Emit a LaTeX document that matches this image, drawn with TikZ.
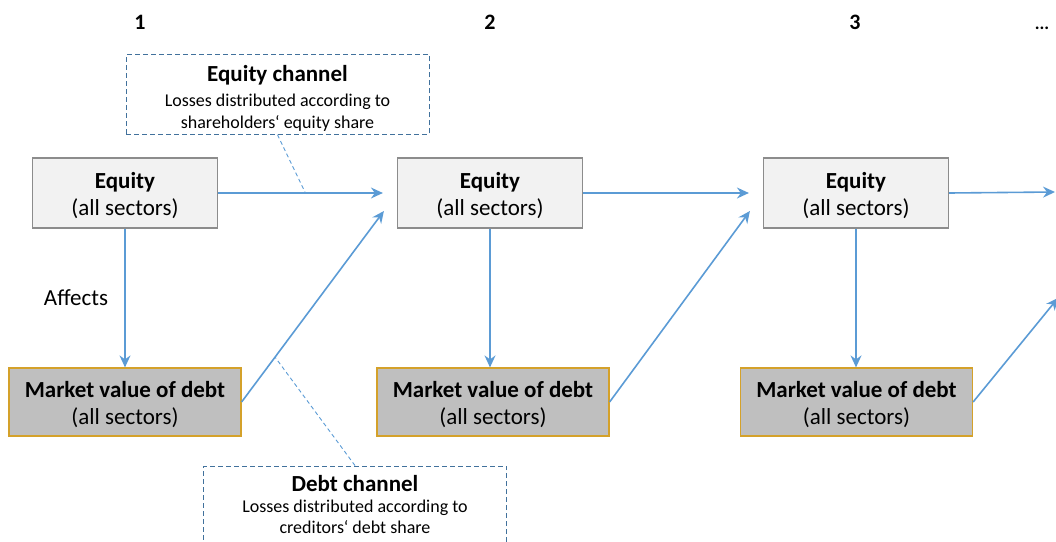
\documentclass[tikz,border=0pt]{standalone}
\usepackage{fontspec}
\setmainfont{Carlito}
\usetikzlibrary{arrows.meta, positioning}

\definecolor{flowblue}{HTML}{5B9BD5}
\definecolor{noteblue}{HTML}{41719C}
\definecolor{eqfill}{HTML}{F2F2F2}
\definecolor{eqline}{HTML}{8C8C8C}
\definecolor{debtfill}{HTML}{BFBFBF}
\definecolor{debtline}{HTML}{D4A12A}

\begin{document}
\begin{tikzpicture}[x=1pt, y=-1pt,
  equitybox/.style={draw=eqline, fill=eqfill, line width=1.2pt, minimum width=185pt, minimum height=70pt, align=center, font=\fontsize{23}{27}\selectfont},
  debtbox/.style={draw=debtline, fill=debtfill, line width=1.2pt, minimum width=232pt, minimum height=68pt, align=center, font=\fontsize{23}{27}\selectfont},
  channel/.style={draw=noteblue, dash pattern=on 5pt off 3pt, line width=0.9pt, minimum width=303pt, minimum height=77pt, align=center, font=\fontsize{18}{22}\selectfont},
  flow/.style={draw=flowblue, line width=1.6pt, -{Stealth[length=12pt, width=11pt, inset=4pt]}},
  pointer/.style={draw=flowblue, dash pattern=on 4pt off 3pt, line width=0.9pt},
  stepnum/.style={anchor=base, font=\fontsize{22}{26}\selectfont\bfseries}]

  \useasboundingbox (0,0) rectangle (1056,541);

  \node[stepnum] (n1) at (140,29) {1};
  \node[stepnum] (n2) at (490,29) {2};
  \node[stepnum] (n3) at (855,29) {3};
  \node[anchor=base, font=\fontsize{18}{22}\selectfont\bfseries] (more) at (1042,29) {...};

  \foreach \i/\x/\dx in {1/125/125, 2/490/493, 3/856/856.5}{
    \node[equitybox] (eq\i) at (\x,193) {\rule{0pt}{21pt}\textbf{Equity}\\(all sectors)};
    \node[debtbox] (debt\i) at (\dx,402) {\rule{0pt}{21pt}\textbf{Market value of debt}\\(all sectors)};
    \draw[flow] (eq\i.south) -- (eq\i.south |- debt\i.north);
  }

  \node[font=\fontsize{23}{27}\selectfont] (affects) at (76,298) {Affects};

  \draw[flow] (eq1.east) -- coordinate[pos=0.53] (eqhit) ([xshift=-14pt]eq2.west);
  \draw[flow] (debt1.east) -- coordinate[pos=0.235] (debthit) ([xshift=-13pt,yshift=-18pt]eq2.west);
  \draw[flow] (eq2.east) -- ([xshift=-14pt]eq3.west);
  \draw[flow] (debt2.east) -- ([xshift=-13pt,yshift=-18pt]eq3.west);

  \coordinate (nexteq) at (1055,192);
  \coordinate (nextdebt) at (1058,298);
  \draw[flow] (eq3.east) -- (nexteq);
  \draw[flow] (debt3.east) -- (nextdebt);

  \node[channel] (eqch) at (277.5,94.5) {\rule{0pt}{23pt}\textbf{\fontsize{23}{26}\selectfont Equity channel}\\[3pt]Losses distributed according to\\shareholders‘ equity share};
  \node[channel, font=\fontsize{18}{21}\selectfont] (debtch) at (355,504.5) {\rule{0pt}{17pt}\textbf{\fontsize{23}{26}\selectfont Debt channel}\\[0pt]Losses distributed according to\\creditors‘ debt share};

  \draw[pointer] (eqch.south) -- (eqhit);
  \draw[pointer] (debtch.north) -- (debthit);
\end{tikzpicture}
\end{document}
